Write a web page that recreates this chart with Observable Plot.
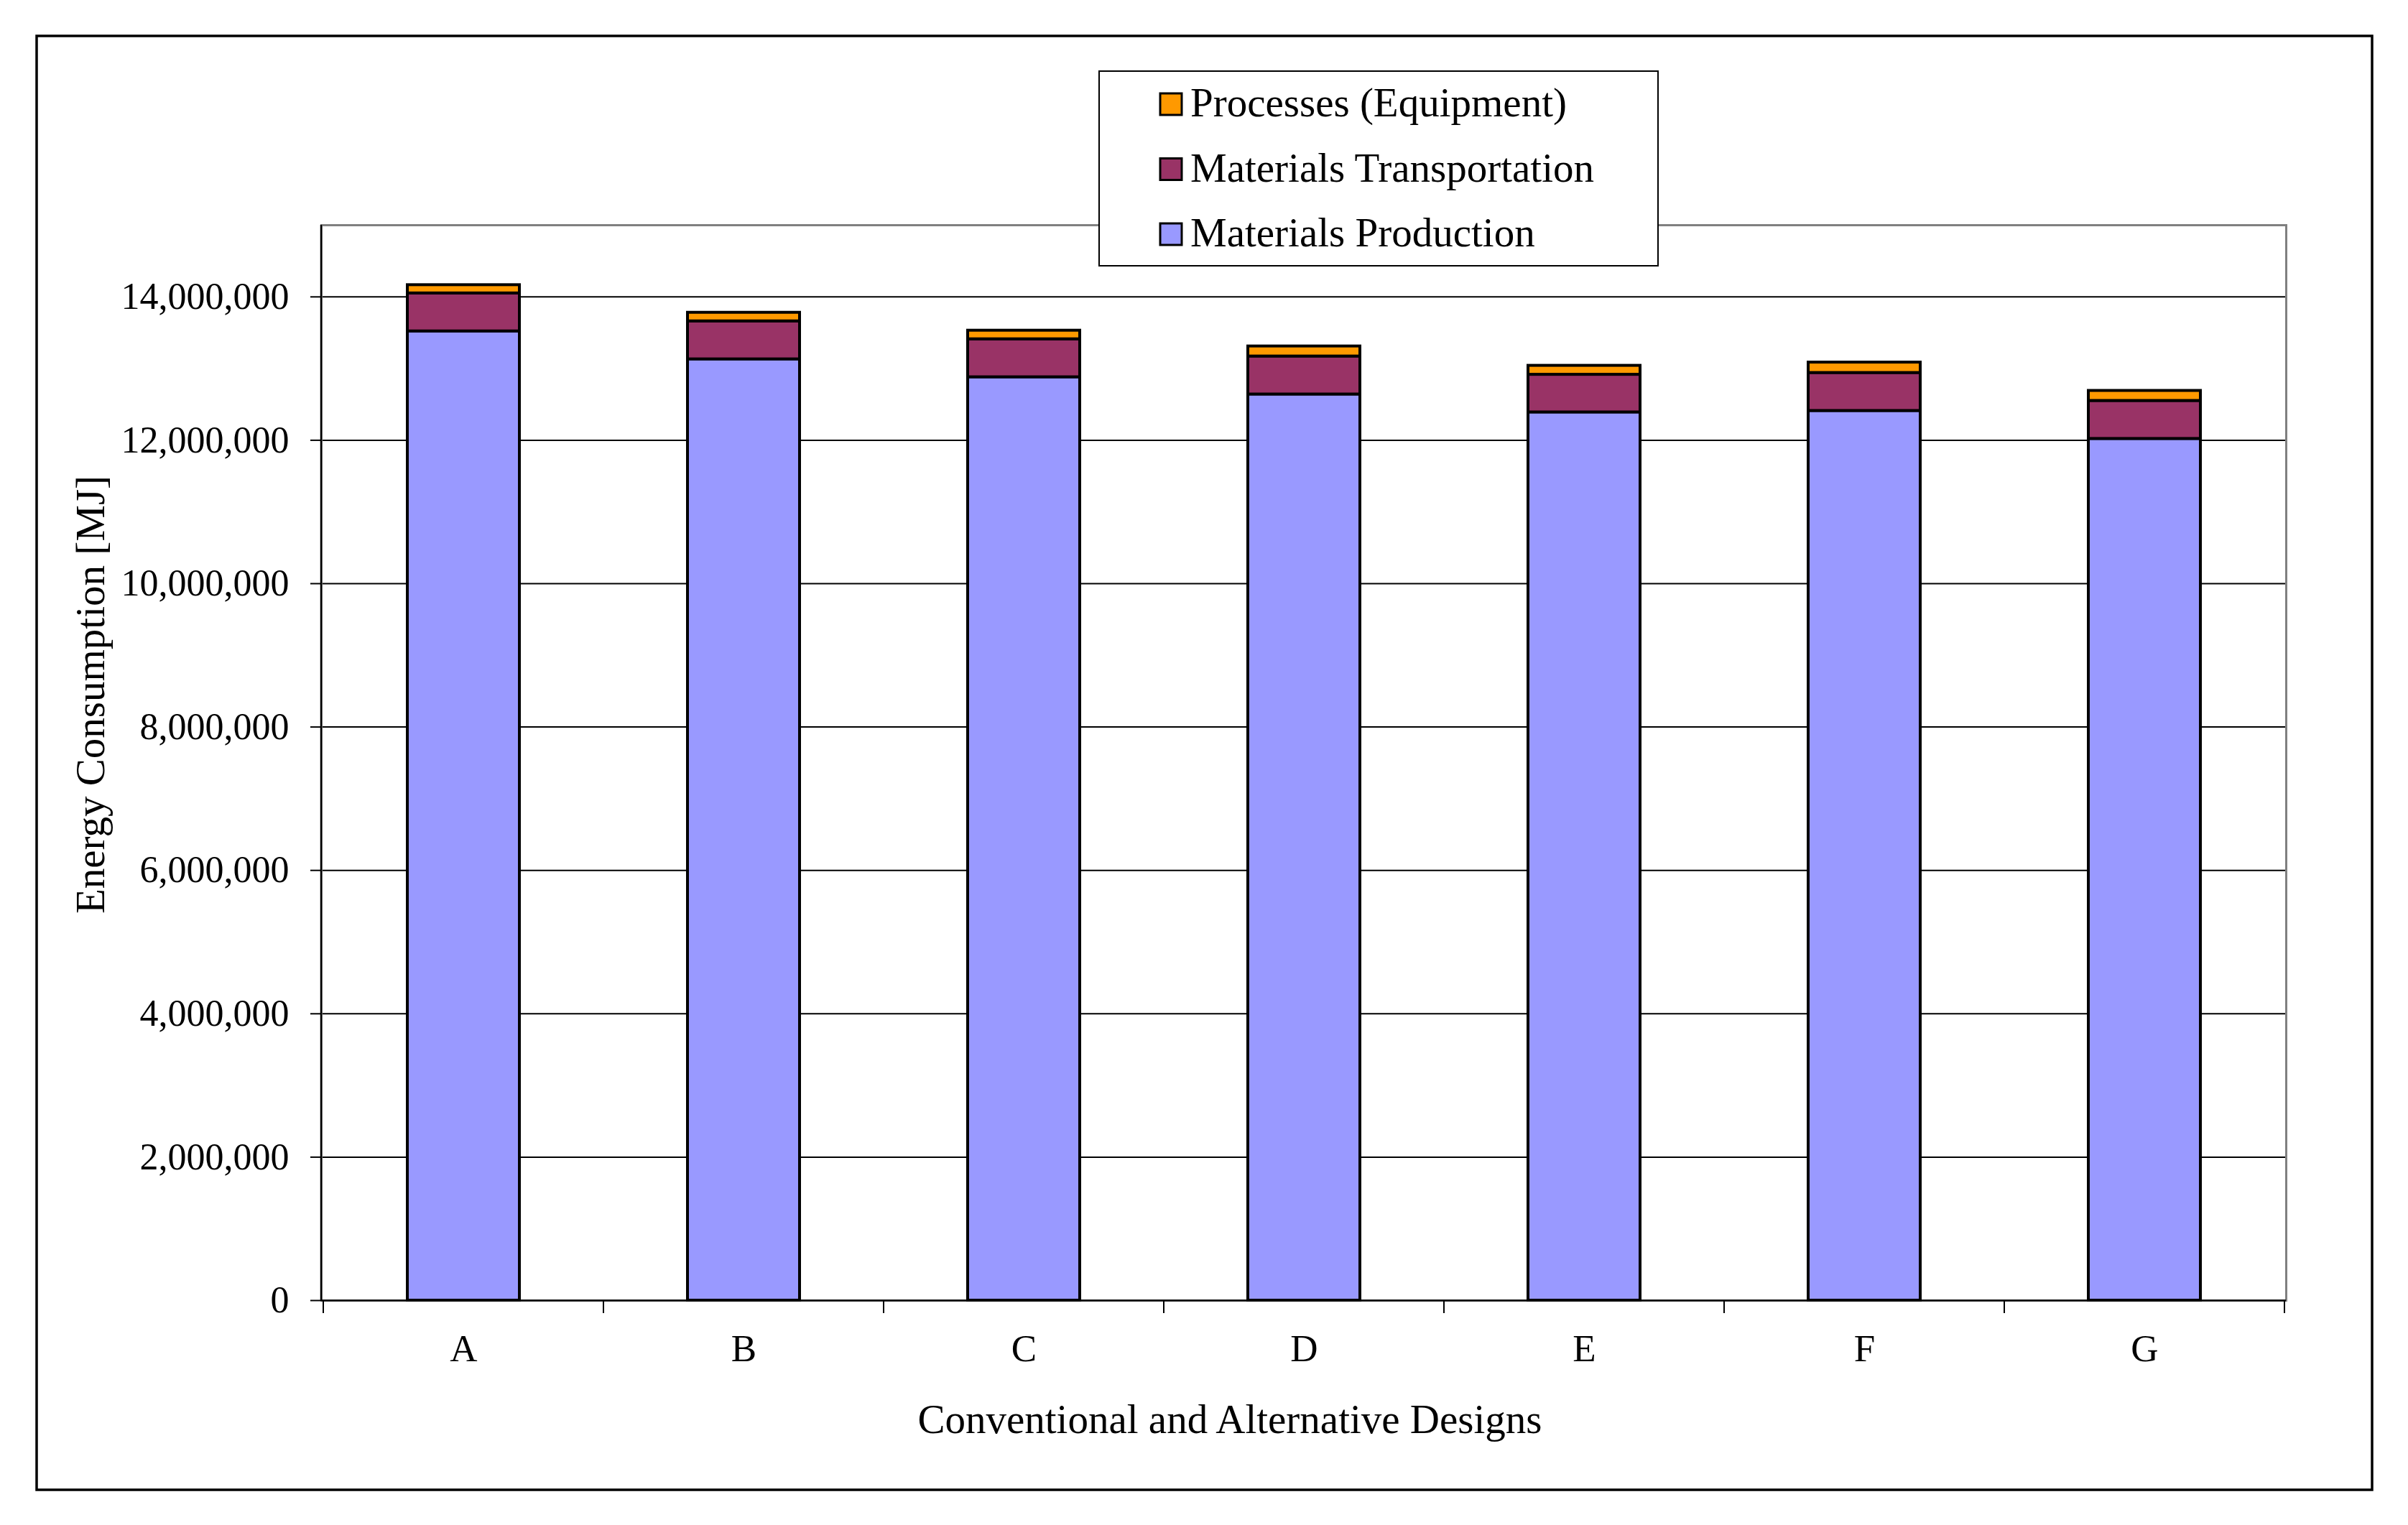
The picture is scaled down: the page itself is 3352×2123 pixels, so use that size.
<!DOCTYPE html>
<html>
<head>
<meta charset="utf-8">
<script src="https://cdn.jsdelivr.net/npm/d3@7"></script>
<script src="https://cdn.jsdelivr.net/npm/@observablehq/plot@0.6"></script>
<style>
  html, body { margin: 0; padding: 0; background: #fff; }
  #chart svg { display: block; }
</style>
</head>
<body>
<div id="chart"></div>
<script>
// ---- data ----
const designs = ["A", "B", "C", "D", "E", "F", "G"];
const seriesNames = ["Materials Production", "Materials Transportation", "Processes (Equipment)"];
const seriesColors = ["#9999FF", "#993366", "#FF9900"];
const production = [13520000, 13130000, 12880000, 12640000, 12390000, 12410000, 12020000];
const transportation = [530000, 530000, 530000, 530000, 525000, 530000, 530000];
const processes = [115000, 120000, 120000, 140000, 125000, 145000, 140000];
const yTicks = [0, 2000000, 4000000, 6000000, 8000000, 10000000, 12000000, 14000000];
const gridTicks = yTicks.slice(1);
const xTitle = "Conventional and Alternative Designs";
const yTitle = "Energy Consumption [MJ]";

// table for the stacked bars
const seriesValues = [production, transportation, processes];
const rows = [];
designs.forEach((d, i) => {
  seriesNames.forEach((s, k) => rows.push({design: d, series: s, value: seriesValues[k][i]}));
});

const W = 3352, H = 2123;
const font = "'Liberation Serif', 'Times New Roman', serif";

// boundary ticks under the x axis and the left axis line, placed by the band scale
function axisLines(index, scales, values, dim) {
  const sx = scales.x;
  const dom = sx.domain();
  const bw = typeof sx.bandwidth === "function" ? sx.bandwidth() : 0;
  const step = typeof sx.step === "function" ? sx.step() : (sx(dom[1]) - sx(dom[0]));
  const gap = (step - bw) / 2;
  const pos = dom.map(d => sx(d) - gap);
  pos.push(sx(dom[dom.length - 1]) + bw + gap);
  const bottom = dim.height - dim.marginBottom;
  const g = d3.create("svg:g");
  g.selectAll("line.t").data(pos).join("line")
    .attr("x1", d => d).attr("x2", d => d)
    .attr("y1", bottom).attr("y2", bottom + 18)
    .attr("stroke", "black").attr("stroke-width", 2);
  g.append("line")
    .attr("x1", dim.marginLeft).attr("x2", dim.marginLeft)
    .attr("y1", dim.marginTop).attr("y2", bottom)
    .attr("stroke", "black").attr("stroke-width", 2.5);
  return g.node();
}

const chart = Plot.plot({
  width: W,
  height: H,
  marginTop: 313,
  marginBottom: 313,
  marginLeft: 447,
  marginRight: 170,
  style: {fontFamily: font, fontSize: "52px", background: "white", color: "black"},
  x: {type: "band", domain: designs, paddingInner: 0.6, paddingOuter: 0.3, label: null},
  y: {domain: [0, 15000000], label: null},
  color: {domain: seriesNames, range: seriesColors},
  marks: [
    Plot.gridY(gridTicks, {stroke: "black", strokeOpacity: 1, strokeWidth: 2}),
    Plot.frame({stroke: "#808080", strokeWidth: 3}),
    Plot.barY(rows, {
      x: "design", y: "value", fill: "series", z: "series",
      order: seriesNames, stroke: "black", strokeWidth: 4
    }),
    Plot.ruleY([0], {stroke: "black", strokeWidth: 2.5}),
    Plot.axisY({ticks: yTicks, tickSize: 15, tickPadding: 30, tickFormat: d3.format(","),
      fontSize: 52, label: null, stroke: "black", strokeWidth: 2}),
    Plot.axisX({tickSize: 0, tickPadding: 47, fontSize: 53, label: null}),
    axisLines
  ]
});

document.getElementById("chart").appendChild(chart);

const svg = d3.select(chart);

// outer border
svg.append("rect")
  .attr("x", 51).attr("y", 50).attr("width", 3251).attr("height", 2024)
  .attr("fill", "none").attr("stroke", "black").attr("stroke-width", 3.5);

// axis titles
svg.append("text")
  .attr("x", 1712).attr("y", 1995)
  .attr("text-anchor", "middle")
  .attr("font-family", font).attr("font-size", 57).attr("fill", "black")
  .text(xTitle);
svg.append("text")
  .attr("transform", "translate(145,967) rotate(-90)")
  .attr("text-anchor", "middle")
  .attr("font-family", font).attr("font-size", 57).attr("fill", "black")
  .text(yTitle);

// legend (top series first, as in the reference)
const legend = svg.append("g").attr("text-anchor", "start");
legend.append("rect")
  .attr("x", 1530).attr("y", 99).attr("width", 778).attr("height", 271)
  .attr("fill", "white").attr("stroke", "black").attr("stroke-width", 2);
const legendItems = seriesNames.map((s, k) => ({name: s, color: seriesColors[k]})).reverse();
legendItems.forEach((it, i) => {
  const cy = 145 + i * 90.5;
  legend.append("rect")
    .attr("x", 1615).attr("y", cy - 15).attr("width", 30).attr("height", 30)
    .attr("fill", it.color).attr("stroke", "black").attr("stroke-width", 3);
  legend.append("text")
    .attr("x", 1657).attr("y", cy + 17)
    .attr("text-anchor", "start")
    .attr("font-family", font).attr("font-size", 57).attr("fill", "black")
    .text(it.name);
});
</script>
</body>
</html>
